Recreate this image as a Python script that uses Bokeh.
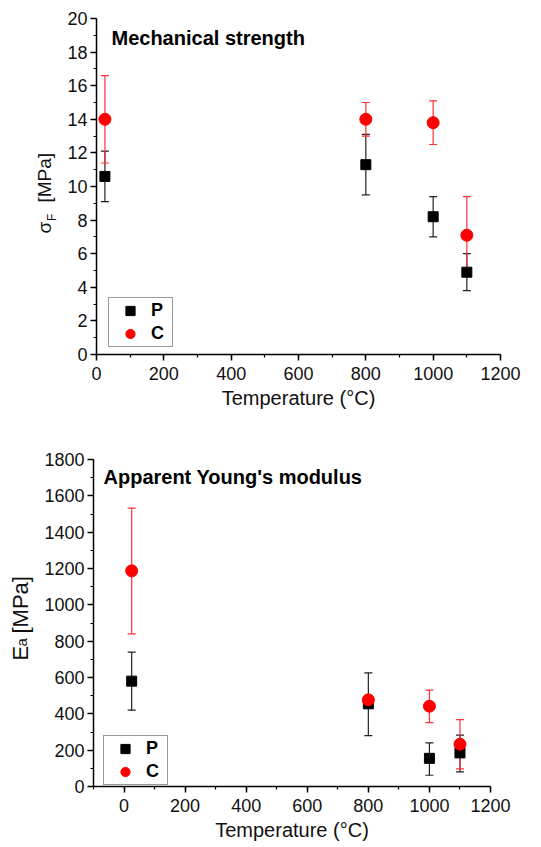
import math
from bokeh.plotting import figure
from bokeh.models import (ColumnDataSource, Whisker, TeeHead, Label, Legend, LegendItem,
                          SingleIntervalTicker, Range1d)
from bokeh.layouts import column, row
from bokeh.embed import file_html
from bokeh.resources import INLINE

# ---------------- data ----------------
temps = [25, 800, 1000, 1100]

sigma_P = [10.6, 11.3, 8.2, 4.9]
sigma_P_lo = [9.1, 9.5, 7.0, 3.8]
sigma_P_hi = [12.1, 13.1, 9.4, 6.0]

sigma_C = [14.0, 14.0, 13.8, 7.1]
sigma_C_lo = [11.4, 13.0, 12.5, 4.8]
sigma_C_hi = [16.6, 15.0, 15.1, 9.4]

E_P = [580, 455, 155, 185]
E_P_lo = [420, 280, 62, 80]
E_P_hi = [740, 626, 240, 283]

E_C = [1187, 477, 442, 233]
E_C_lo = [840, 470, 352, 97]
E_C_hi = [1532, 484, 530, 368]

series_names = ["P", "C"]
x_label = "Temperature (°C)"

FONT = "Liberation Sans"
RED = "#ff0000"
RED_ERR = "#ff3333"
BLACK = "#000000"
BLACK_ERR = "#222222"
TXT = "#111111"


def style_axes(p, xint, yint):
    for ax in (p.xaxis[0], p.yaxis[0]):
        ax.axis_line_color = BLACK
        ax.axis_line_width = 1.5
        ax.major_tick_line_color = BLACK
        ax.major_tick_line_width = 1.5
        ax.minor_tick_line_color = BLACK
        ax.minor_tick_line_width = 1.2
        ax.major_tick_in = 0
        ax.major_tick_out = 6
        ax.minor_tick_in = 0
        ax.minor_tick_out = 3
        ax.major_label_text_font = FONT
        ax.major_label_text_font_size = "18px"
        ax.major_label_text_color = TXT
        ax.axis_label_text_font = FONT
        ax.axis_label_text_font_size = "20px"
        ax.axis_label_text_font_style = "normal"
        ax.axis_label_text_color = TXT
    p.xaxis[0].ticker = SingleIntervalTicker(interval=xint, num_minor_ticks=2)
    p.yaxis[0].ticker = SingleIntervalTicker(interval=yint, num_minor_ticks=2)
    p.yaxis[0].major_label_standoff = 3
    p.xaxis[0].major_label_standoff = 6
    p.xaxis[0].axis_label_standoff = 4
    p.xgrid.visible = False
    p.ygrid.visible = False
    p.outline_line_color = None


def ylabel_fig(width, height, parts):
    # narrow companion figure holding the rotated y-axis title (with subscript);
    # its frame is aligned with the neighbouring plot's frame by the row layout
    f = figure(width=width, height=height, x_axis_type=None, y_axis_type=None,
               output_backend="svg", toolbar_location=None, min_border=0,
               x_range=Range1d(0, 1), y_range=Range1d(0, 1))
    f.outline_line_color = None
    f.grid.visible = False
    for txt, x, y, size in parts:
        f.add_layout(Label(x=x, y=y, x_units="screen", y_units="screen", text=txt,
                           angle=math.pi / 2, text_font=FONT, text_font_size=size,
                           text_baseline="alphabetic", text_align="left",
                           text_color=TXT))
    return f


def make_panel(width, xr, yr, height, bl, bt, bb, br, P, P_lo, P_hi, C, C_lo, C_hi,
               title, title_xy, xint, yint, leg_loc):
    p = figure(width=width, height=height, x_range=Range1d(*xr), y_range=Range1d(*yr),
               output_backend="svg", toolbar_location=None,
               min_border_left=bl, min_border_right=br, min_border_top=bt,
               min_border_bottom=bb)
    style_axes(p, xint, yint)
    p.xaxis[0].axis_label = x_label

    srcP = ColumnDataSource(dict(x=temps, y=P, lo=P_lo, hi=P_hi))
    srcC = ColumnDataSource(dict(x=temps, y=C, lo=C_lo, hi=C_hi))

    for src, col in ((srcP, BLACK_ERR), (srcC, RED_ERR)):
        p.add_layout(Whisker(source=src, base="x", upper="hi", lower="lo",
                             dimension="height", line_color=col, line_width=1.2,
                             upper_head=TeeHead(size=8, line_color=col, line_width=1.2),
                             lower_head=TeeHead(size=8, line_color=col, line_width=1.2)))

    rP = p.scatter("x", "y", source=srcP, marker="square", size=10,
                   fill_color=BLACK, line_color=BLACK)
    rC = p.scatter("x", "y", source=srcC, marker="circle", size=12,
                   fill_color=RED, line_color=RED)

    leg = Legend(items=[LegendItem(label=series_names[0], renderers=[rP]),
                        LegendItem(label=series_names[1], renderers=[rC])],
                 location=leg_loc, orientation="vertical")
    leg.label_text_font = FONT
    leg.label_text_font_style = "bold"
    leg.label_text_font_size = "18px"
    leg.label_text_color = BLACK
    leg.border_line_color = "#333333"
    leg.border_line_width = 1.5
    leg.background_fill_alpha = 1.0
    leg.glyph_width = 40
    leg.glyph_height = 23
    leg.label_height = 23
    leg.label_standoff = 1
    leg.padding = 1
    leg.spacing = 0
    leg.margin = 0
    p.add_layout(leg)

    p.add_layout(Label(x=title_xy[0], y=title_xy[1], x_units="screen", y_units="screen",
                       text=title, text_font=FONT, text_font_style="bold",
                       text_font_size="20px", text_baseline="alphabetic",
                       text_color=BLACK))
    return p


H1, H2 = 428, 417

p1 = make_panel(469, (0, 1200), (0, 20), H1, 29, 18, 74, 33,
                sigma_P, sigma_P_lo, sigma_P_hi, sigma_C, sigma_C_lo, sigma_C_hi,
                "Mechanical strength", (15, 317), 200, 2, (12, 7))
l1 = ylabel_fig(64, H1, [("σ", 44, 121, "19px"), ("F", 51, 133.5, "12px"),
                         ("[MPa]", 44, 152, "19px")])

p2 = make_panel(493, (-100, 1200), (0, 1800), H2, 53, 31, 59, 43,
                E_P, E_P_lo, E_P_hi, E_C, E_C_lo, E_C_hi,
                "Apparent Young's modulus", (10, 310), 200, 200, (10, 1))
l2 = ylabel_fig(40, H2, [("E", 20, 126, "22px"), ("a", 21, 140, "15px"),
                         ("[MPa]", 20, 153, "22px")])

layout = column(row(l1, p1, spacing=0), row(l2, p2, spacing=0), spacing=0)
open("out.html", "w").write(file_html(layout, INLINE))
